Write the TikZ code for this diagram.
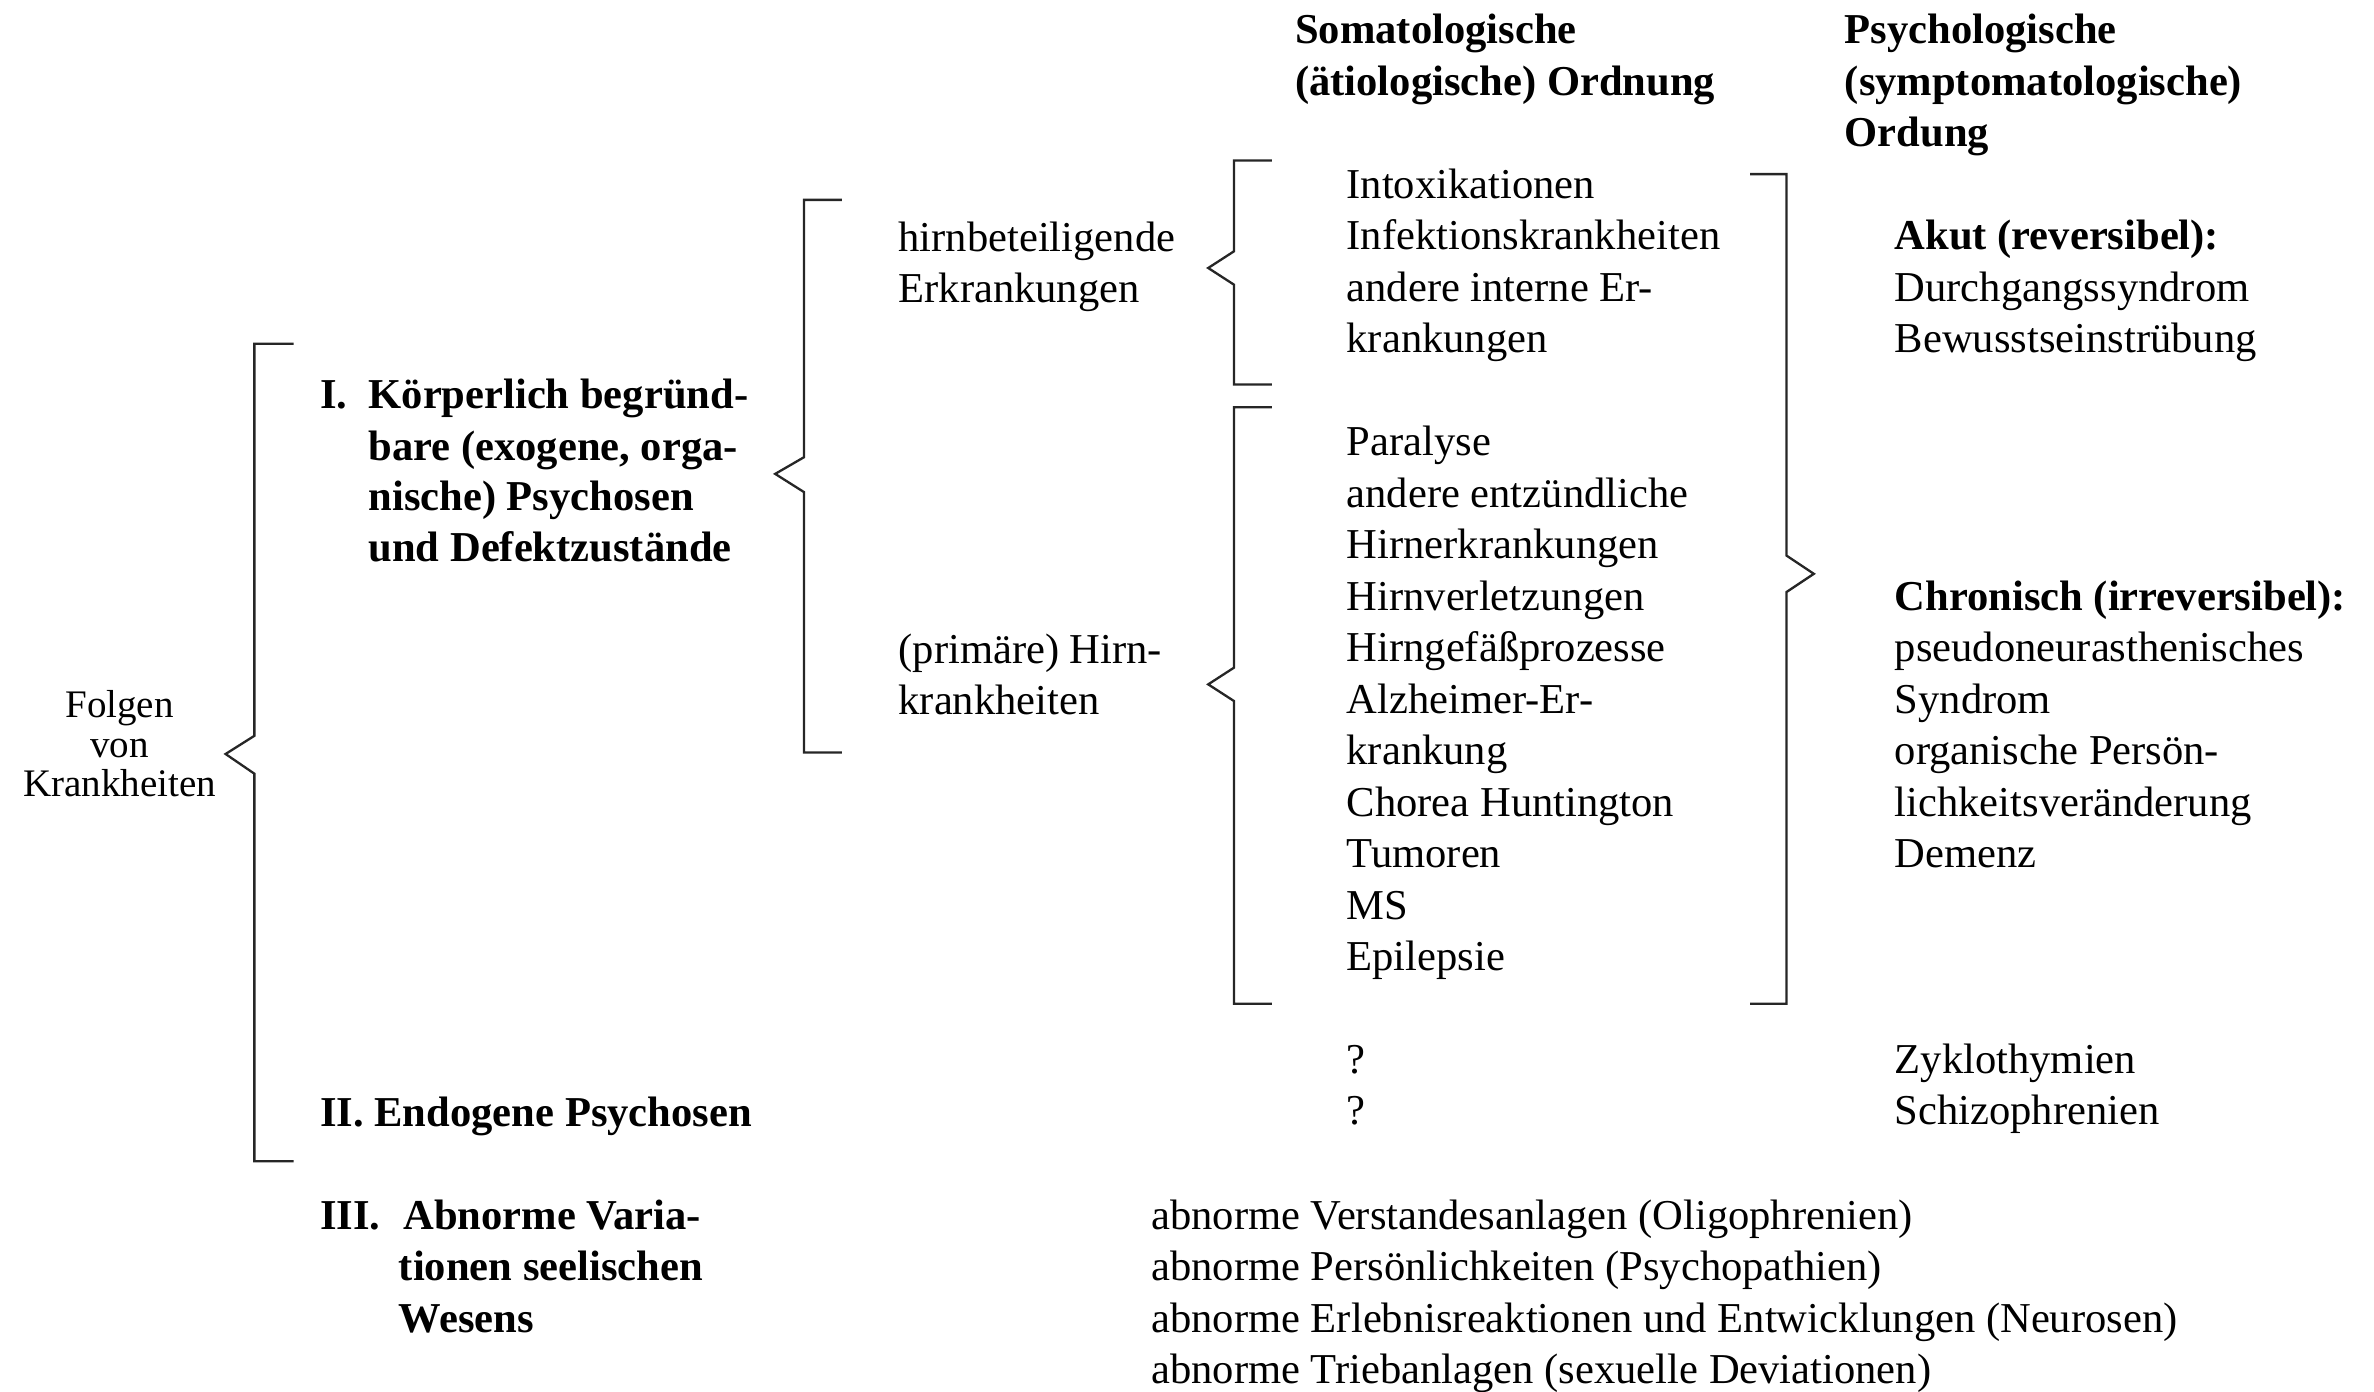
\documentclass[tikz,border=0pt]{standalone}
\usepackage{fontspec}
\setmainfont{Liberation Serif}
\begin{document}
\begin{tikzpicture}[x=0.015cm,y=-0.015cm,
  txt/.style={anchor=base west, inner sep=0pt, font=\fontsize{12}{14.5}\selectfont},
  btxt/.style={anchor=base west, inner sep=0pt, font=\fontsize{12}{14.5}\selectfont\bfseries},
  small/.style={anchor=base, inner sep=0pt, font=\fontsize{11}{11}\selectfont},
  brk/.style={line width=0.65pt, draw=black!85, line join=miter}]
\useasboundingbox (0,0) rectangle (1568,919);

% headers
\node[btxt] (h1) at (855,29) {Somatologische};
\node[btxt] (h2) at (855,63) {(ätiologische) Ordnung};
\node[btxt] (h3) at (1218,29) {Psychologische};
\node[btxt] (h4) at (1218,63) {(symptomatologische)};
\node[btxt] (h5) at (1218,97) {Ordung};

% Folgen von Krankheiten
\node[small] (f1) at (79,474) {Folgen};
\node[small] (f2) at (79,500) {von};
\node[small] (f3) at (79,526) {Krankheiten};

% I.
\node[btxt] (i0) at (211,270) {I.};
\node[btxt] (i1) at (243,270) {Körperlich begründ-};
\node[btxt] (i2) at (243,304) {bare (exogene, orga-};
\node[btxt] (i3) at (243,337) {nische) Psychosen};
\node[btxt] (i4) at (243,371) {und Defektzustände};
% II.
\node[btxt] (ii) at (211,744) {II. Endogene Psychosen};
% III.
\node[btxt] (iii0) at (211,812) {III.};
\node[btxt] (iii1) at (266,812) {Abnorme Varia-};
\node[btxt] (iii2) at (263,846) {tionen seelischen};
\node[btxt] (iii3) at (263,880) {Wesens};

% left sub column
\node[txt] (l1) at (593,166) {hirnbeteiligende};
\node[txt] (l2) at (593,200) {Erkrankungen};
\node[txt] (l3) at (593,438) {(primäre) Hirn-};
\node[txt] (l4) at (593,472) {krankheiten};

% middle column
\node[txt] (m1) at (889,131) {Intoxikationen};
\node[txt] (m2) at (889,165) {Infektionskrankheiten};
\node[txt] (m3) at (889,199) {andere interne Er-};
\node[txt] (m4) at (889,233) {krankungen};
\node[txt] (m5) at (889,301) {Paralyse};
\node[txt] (m6) at (889,335) {andere entzündliche};
\node[txt] (m7) at (889,369) {Hirnerkrankungen};
\node[txt] (m8) at (889,403) {Hirnverletzungen};
\node[txt] (m9) at (889,437) {Hirngefäßprozesse};
\node[txt] (m10) at (889,471) {Alzheimer-Er-};
\node[txt] (m11) at (889,505) {krankung};
\node[txt] (m12) at (889,539) {Chorea Huntington};
\node[txt] (m13) at (889,573) {Tumoren};
\node[txt] (m14) at (889,607) {MS};
\node[txt] (m15) at (889,641) {Epilepsie};
\node[txt] (q1) at (889,709) {?};
\node[txt] (q2) at (889,743) {?};

% right column
\node[btxt] (r1) at (1251,165) {Akut (reversibel):};
\node[txt] (r2) at (1251,199) {Durchgangssyndrom};
\node[txt] (r3) at (1251,233) {Bewusstseinstrübung};
\node[btxt] (r4) at (1251,403) {Chronisch (irreversibel):};
\node[txt] (r5) at (1251,437) {pseudoneurasthenisches};
\node[txt] (r6) at (1251,471) {Syndrom};
\node[txt] (r7) at (1251,505) {organische Persön-};
\node[txt] (r8) at (1251,539) {lichkeitsveränderung};
\node[txt] (r9) at (1251,573) {Demenz};
\node[txt] (r10) at (1251,709) {Zyklothymien};
\node[txt] (r11) at (1251,743) {Schizophrenien};

% bottom list
\node[txt] (b1) at (760,812) {abnorme Verstandesanlagen (Oligophrenien)};
\node[txt] (b2) at (760,846) {abnorme Persönlichkeiten (Psychopathien)};
\node[txt] (b3) at (760,880) {abnorme Erlebnisreaktionen und Entwicklungen (Neurosen)};
\node[txt] (b4) at (760,914) {abnorme Triebanlagen (sexuelle Deviationen)};

% brackets
\draw[brk] (194,227) -- (168,227) -- (168,486) -- (149,498) -- (168,511) -- (168,767) -- (194,767);
\draw[brk] (556,132) -- (531,132) -- (531,302) -- (512,313) -- (531,325) -- (531,497) -- (556,497);
\draw[brk] (840,106) -- (815,106) -- (815,166) -- (798,177) -- (815,188) -- (815,254) -- (840,254);
\draw[brk] (840,269) -- (815,269) -- (815,441) -- (798,452) -- (815,463) -- (815,663) -- (840,663);
\draw[brk] (1156,115) -- (1180,115) -- (1180,367) -- (1198,379) -- (1180,391) -- (1180,663) -- (1156,663);
\end{tikzpicture}
\end{document}
